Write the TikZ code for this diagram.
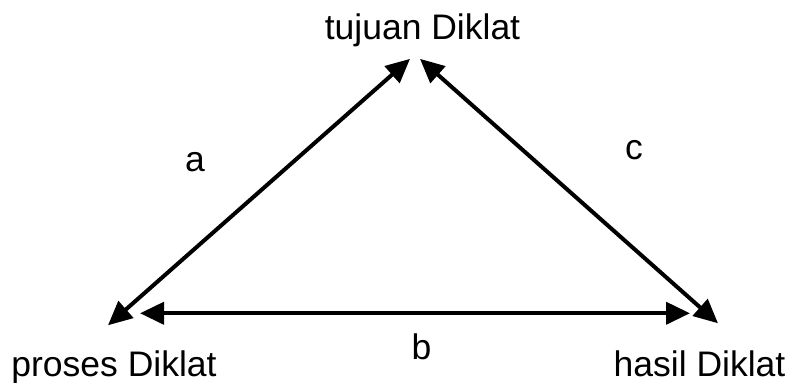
\documentclass[tikz,border=0pt]{standalone}
\usepackage{fontspec}
\setmainfont{Liberation Sans}
\usetikzlibrary{arrows.meta}

\begin{document}
\begin{tikzpicture}[
    x=0.5pt,y=-0.5pt,
    <->,>={Triangle[length=12pt,width=11pt]},
    line width=2pt,
    every node/.style={font=\fontsize{17.75}{20}\selectfont,inner sep=0pt,anchor=base}
]
\useasboundingbox (0,0) rectangle (791,383);
\node (tujuan) at (422.5,40) {tujuan Diklat};
\node (proses) at (114,377) {proses Diklat};
\node (hasil) at (699.5,377) {hasil Diklat};
\node (la) at (195,172) {a};
\node (lb) at (421.5,360) {b};
\node (lc) at (634,160) {c};

\draw ([shift={(-6,-24)}]proses.north) -- ([shift={(-12.5,9.5)}]tujuan.south);
\draw ([shift={(18.5,-26)}]hasil.north) -- ([shift={(-2.5,9.5)}]tujuan.south);
\draw ([shift={(26,-36)}]proses.north) -- ([shift={(-9.5,-36)}]hasil.north);
\end{tikzpicture}
\end{document}
